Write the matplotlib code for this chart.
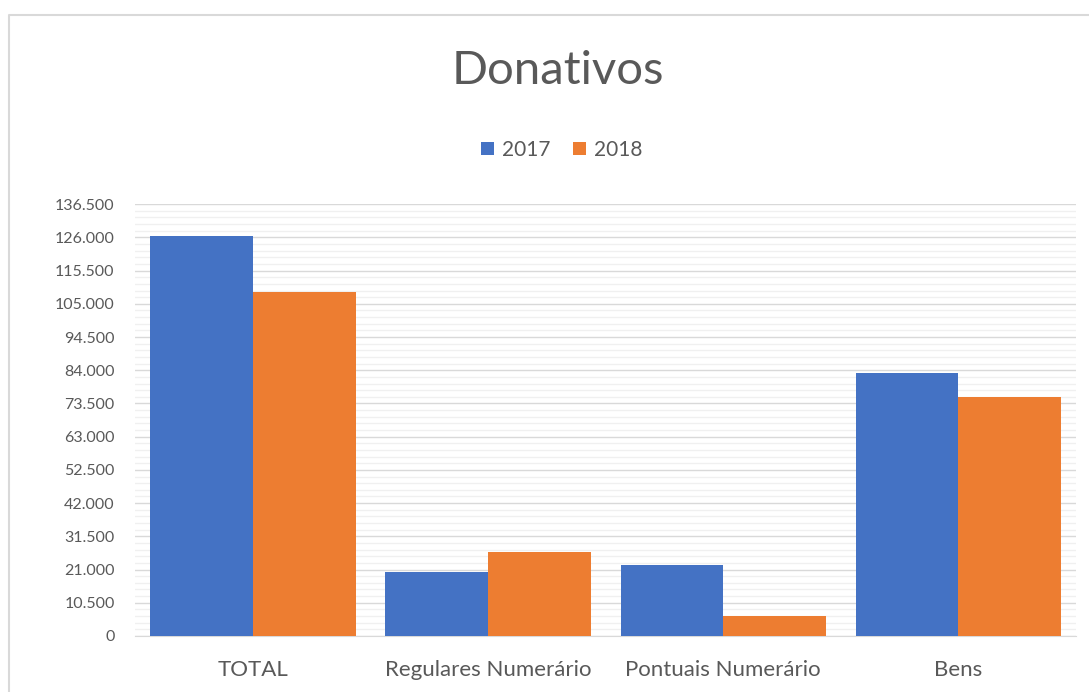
import matplotlib
matplotlib.use('Agg')
import matplotlib.pyplot as plt
from matplotlib.ticker import MultipleLocator, FuncFormatter
import numpy as np

# data
categories = ['TOTAL', 'Regulares Numerário', 'Pontuais Numerário', 'Bens']
years = ['2017', '2018']
values_2017 = [126400, 20200, 22400, 83100]
values_2018 = [108700, 26500, 6300, 75500]
colors = ['#4472C4', '#ED7D31']

plt.rcParams['font.family'] = ['Lato', 'DejaVu Sans']

fig = plt.figure(figsize=(10.89, 6.92), dpi=100)
ax = fig.add_axes([0.1244, 0.081, 0.8636, 0.624])

x = np.arange(len(categories))
w = 0.437
ax.bar(x - w / 2, values_2017, w, color=colors[0], label=years[0], zorder=3)
ax.bar(x + w / 2, values_2018, w, color=colors[1], label=years[1], zorder=3)

ax.set_xlim(-0.5, len(categories) - 0.5)
ax.set_ylim(0, 136500)
ax.yaxis.set_major_locator(MultipleLocator(10500))
ax.yaxis.set_minor_locator(MultipleLocator(2100))
ax.yaxis.set_major_formatter(FuncFormatter(lambda v, p: f'{int(v):,}'.replace(',', '.')))
ax.grid(axis='y', which='major', color='#d9d9d9', linewidth=1, zorder=0)
ax.grid(axis='y', which='minor', color='#f0f0f0', linewidth=1, zorder=0)

for s in ['top', 'right', 'left']:
    ax.spines[s].set_visible(False)
ax.spines['bottom'].set_color('#d9d9d9')
ax.tick_params(axis='both', which='both', length=0, labelcolor='#595959')
ax.tick_params(axis='y', labelsize=11.5, pad=15)
ax.tick_params(axis='x', labelsize=16, pad=17)
ax.set_xticks(x)
ax.set_xticklabels(categories)

fig.text(0.512, 0.897, 'Donativos', ha='center', va='center', fontsize=34,
         color='#595959')
fig.legend(loc='center', bbox_to_anchor=(0.516, 0.783), ncol=2, frameon=False,
           fontsize=15, handlelength=0.6, handleheight=0.6, columnspacing=1.1,
           handletextpad=0.4, labelcolor='#595959')

# outer chart border
fig.add_artist(plt.Line2D([0.0083, 0.0083, 1.0], [0.0, 0.978, 0.978],
                          transform=fig.transFigure, color='#d9d9d9', linewidth=1.5))

fig.savefig('out.png', dpi=100, facecolor='white')
